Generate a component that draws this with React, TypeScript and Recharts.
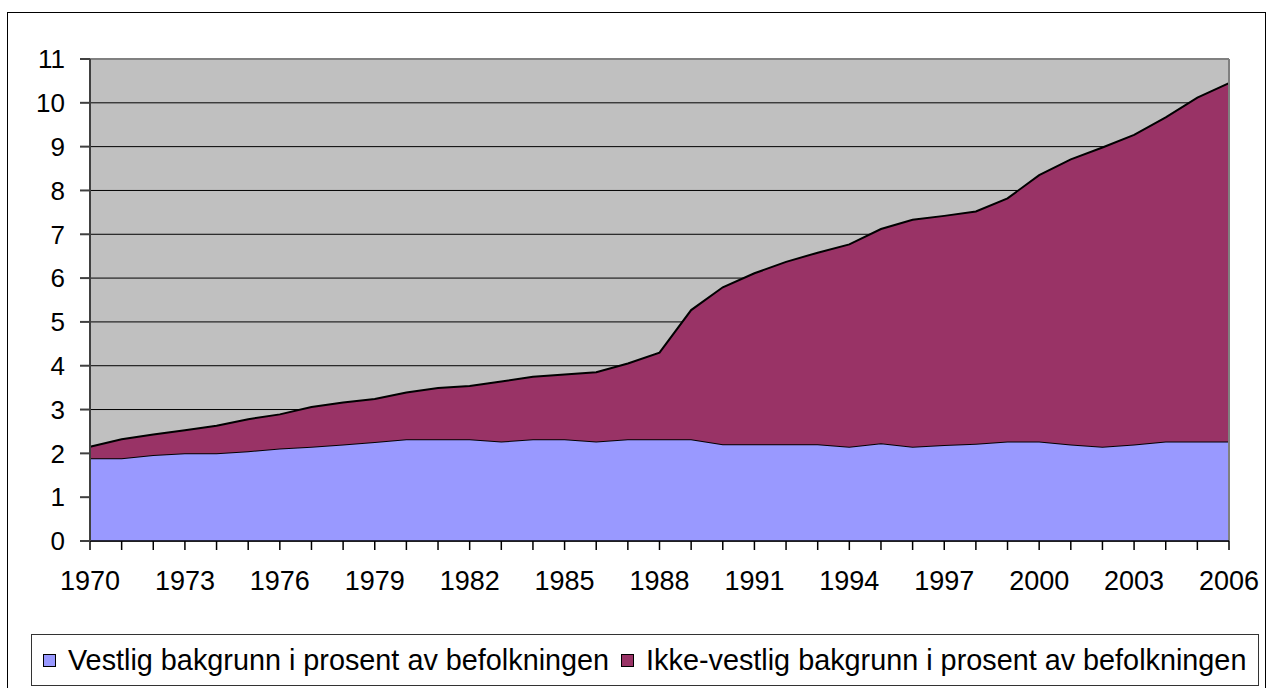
import React from "react";
import {
  AreaChart,
  Area,
  XAxis,
  YAxis,
  CartesianGrid,
  ReferenceLine,
} from "recharts";

const years = [
  "1970", "1971", "1972", "1973", "1974", "1975", "1976", "1977", "1978", "1979",
  "1980", "1981", "1982", "1983", "1984", "1985", "1986", "1987", "1988", "1989",
  "1990", "1991", "1992", "1993", "1994", "1995", "1996", "1997", "1998", "1999",
  "2000", "2001", "2002", "2003", "2004", "2005", "2006",
];

// Vestlig bakgrunn (%)
const vestlig = [
  1.89, 1.89, 1.96, 2.0, 2.0, 2.05, 2.11, 2.15, 2.2, 2.26,
  2.32, 2.32, 2.32, 2.27, 2.32, 2.32, 2.27, 2.32, 2.32, 2.32,
  2.21, 2.21, 2.21, 2.21, 2.15, 2.23, 2.15, 2.19, 2.22, 2.27,
  2.27, 2.2, 2.15, 2.2, 2.27, 2.27, 2.27,
];

// Ikke-vestlig bakgrunn (%)
const ikkeVestlig = [
  0.26, 0.43, 0.47, 0.53, 0.63, 0.73, 0.78, 0.91, 0.96, 0.98,
  1.07, 1.17, 1.22, 1.37, 1.43, 1.48, 1.58, 1.73, 1.98, 2.95,
  3.58, 3.9, 4.16, 4.37, 4.62, 4.89, 5.18, 5.23, 5.3, 5.55,
  6.08, 6.51, 6.83, 7.07, 7.4, 7.85, 8.18,
];

const yTicks = [0, 1, 2, 3, 4, 5, 6, 7, 8, 9, 10, 11];

const labelYears = years.filter((_, i) => i % 3 === 0);

const seriesNames = [
  "Vestlig bakgrunn i prosent av befolkningen",
  "Ikke-vestlig bakgrunn i prosent av befolkningen",
];

const data = years.map((year, i) => ({
  year,
  vestlig: vestlig[i],
  ikkeVestlig: ikkeVestlig[i],
}));

const FONT = '"Liberation Sans", Arial, sans-serif';

export default function App() {
  return (
    <div style={{ position: "absolute", left: 0, top: 0, width: 1274, height: 688, overflow: "hidden", background: "#fff", fontFamily: FONT }}>
      <div
        style={{
          position: "absolute",
          left: 7,
          top: 12,
          width: 1259,
          height: 700,
          border: "1px solid #000",
          boxSizing: "border-box",
        }}
      />
      <div style={{ position: "absolute", left: 0, top: 0 }}>
        <AreaChart
          width={1274}
          height={688}
          data={data}
          margin={{ top: 59, right: 45, left: 30, bottom: 107 }}
        >
          <CartesianGrid
            vertical={false}
            stroke="#000"
            strokeWidth={1}
            fill="#C0C0C0"
            fillOpacity={1}
          />
          <XAxis
            dataKey="year"
            interval={0}
            tickSize={9}
            tickMargin={21}
            height={40}
            stroke="#000"
            strokeWidth={1.5}
            tickFormatter={(v: string) => (labelYears.includes(v) ? v : "")}
            tick={{ fill: "#000", fontSize: 27, fontFamily: FONT }}
          />
          <YAxis
            domain={[0, 11]}
            ticks={yTicks}
            interval={0}
            width={60}
            tickSize={10}
            tickMargin={15}
            stroke="#404040"
            strokeWidth={2}
            tick={{ fill: "#000", fontSize: 26, fontFamily: FONT }}
          />
          <Area
            type="linear"
            dataKey="vestlig"
            stackId="1"
            stroke="#000"
            strokeWidth={2}
            fill="#9999FF"
            fillOpacity={1}
            isAnimationActive={false}
            dot={false}
            activeDot={false}
          />
          <Area
            type="linear"
            dataKey="ikkeVestlig"
            stackId="1"
            stroke="#000"
            strokeWidth={2}
            fill="#993366"
            fillOpacity={1}
            isAnimationActive={false}
            dot={false}
            activeDot={false}
          />
          <ReferenceLine y={11} stroke="#808080" strokeWidth={2} />
          <ReferenceLine x="2006" stroke="#808080" strokeWidth={2} />
        </AreaChart>
      </div>
      <div
        style={{
          position: "absolute",
          left: 31,
          top: 634,
          width: 1228,
          height: 52,
          border: "1px solid #333",
          boxSizing: "border-box",
          display: "flex",
          alignItems: "center",
          paddingLeft: 11,
          fontSize: 28.8,
          whiteSpace: "nowrap",
          color: "#000",
        }}
      >
        <span style={{ width: 13, height: 13, background: "#9999FF", border: "1.5px solid #000", boxSizing: "border-box", display: "inline-block", marginRight: 12 }} />
        <span>{seriesNames[0]}</span>
        <span style={{ width: 13, height: 13, background: "#993366", border: "1.5px solid #000", boxSizing: "border-box", display: "inline-block", marginLeft: 12, marginRight: 12 }} />
        <span>{seriesNames[1]}</span>
      </div>
    </div>
  );
}
